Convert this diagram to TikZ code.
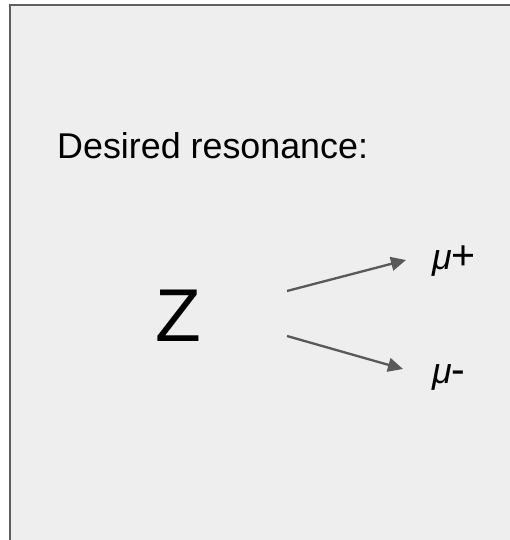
\documentclass[tikz,border=0pt]{standalone}
\usepackage{fontspec}
\setmainfont{Liberation Sans}
\usetikzlibrary{arrows.meta}
\definecolor{panel}{RGB}{238,238,238}
\definecolor{frame}{RGB}{95,95,95}
\definecolor{wire}{RGB}{89,89,89}
\tikzset{
  >={Triangle[length=5mm,width=4.6mm]},
  label text/.style={font=\fontsize{34}{40}\selectfont,inner sep=0pt},
  particle/.style={font=\fontsize{71}{80}\selectfont,inner sep=0pt},
  decay/.style={->,line width=2.2pt,draw=wire},
}
\newcommand{\chargesign}[1]{{\fontsize{39}{40}\selectfont #1}}
\begin{document}
\begin{tikzpicture}
  \useasboundingbox (0,0) rectangle (17,18);
  % panel
  \fill[panel] (0.333,0) rectangle (17,17.833);
  \draw[frame,line width=2pt] (0.333,0) -- (0.333,17.833) -- (17,17.833);
  \node[label text,anchor=base west] (title) at (1.9,12.733) {Desired resonance:};
  \node[particle,anchor=base] (z) at (5.95,6.633) {Z};
  \node[label text,anchor=base west] (mup) at (14.4,9.033) {{\itshape μ}\chargesign{+}};
  \node[label text,anchor=base west] (mum) at (14.4,5.2) {{\itshape μ}\chargesign{-}};
  \coordinate (up start) at (9.567,8.3);
  \coordinate (up end) at (13.533,9.333);
  \coordinate (down start) at (9.567,6.8);
  \coordinate (down end) at (13.433,5.7);
  \draw[decay] (up start) -- (up end);
  \draw[decay] (down start) -- (down end);
\end{tikzpicture}
\end{document}
